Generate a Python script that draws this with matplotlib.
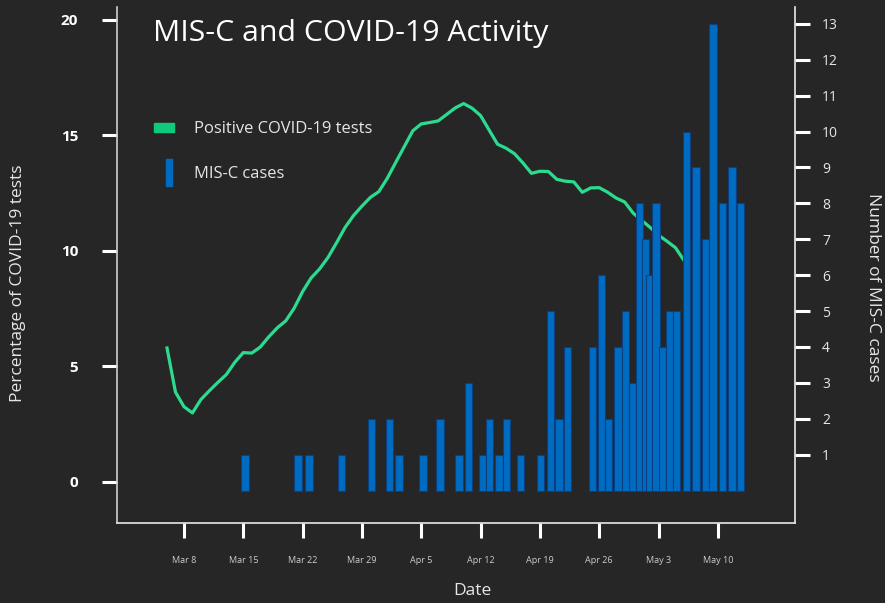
import pandas as pd
import matplotlib
matplotlib.use("Agg")
import matplotlib.pyplot as plt
from matplotlib.patches import Rectangle

plt.rcParams["font.family"] = ["Open Sans", "DejaVu Sans"]

# ── data ─────────────────────────────────────────────────────────────────────
# positive COVID-19 tests (%), daily from Mar 6 to May 6 2020
line_start = "2020-03-06"
pct_positive = [
    5.80, 3.89, 3.26, 2.99, 3.57, 3.95, 4.31, 4.65, 5.18, 5.60,
    5.58, 5.84, 6.28, 6.67, 6.97, 7.52, 8.24, 8.83, 9.22, 9.72,
    10.35, 11.01, 11.53, 11.94, 12.32, 12.57, 13.15, 13.84, 14.52, 15.20,
    15.50, 15.56, 15.63, 15.91, 16.19, 16.38, 16.18, 15.86, 15.24, 14.62,
    14.45, 14.21, 13.81, 13.36, 13.45, 13.44, 13.10, 13.02, 12.99, 12.54,
    12.73, 12.74, 12.54, 12.29, 12.12, 11.64, 11.33, 11.02, 10.68, 10.42,
    10.14, 9.59,
]

# MIS-C cases (report time, count)
case_times = [
    "2020-03-15 05:00", "2020-03-21 11:00", "2020-03-22 18:00", "2020-03-26 15:00",
    "2020-03-30 04:00", "2020-04-01 07:00", "2020-04-02 09:00", "2020-04-05 05:00",
    "2020-04-07 05:00", "2020-04-09 11:00", "2020-04-10 14:00", "2020-04-12 06:00",
    "2020-04-13 02:00", "2020-04-14 04:00", "2020-04-15 02:00", "2020-04-16 18:00",
    "2020-04-19 02:00", "2020-04-20 05:00", "2020-04-21 06:00", "2020-04-22 07:00",
    "2020-04-25 06:00", "2020-04-26 07:00", "2020-04-27 02:00", "2020-04-28 05:00",
    "2020-04-29 02:00", "2020-04-29 23:00", "2020-04-30 19:00", "2020-05-01 12:00",
    "2020-05-01 22:00", "2020-05-02 17:00", "2020-05-03 12:00", "2020-05-04 07:00",
    "2020-05-05 02:00", "2020-05-06 07:00", "2020-05-07 10:00", "2020-05-08 12:00",
    "2020-05-09 10:00", "2020-05-10 14:00", "2020-05-11 16:00", "2020-05-12 17:00",
]
case_counts = [
    1, 1, 1, 1, 2, 2, 1, 1, 2, 1,
    3, 1, 2, 1, 2, 1, 1, 5, 2, 4,
    4, 6, 2, 4, 5, 3, 8, 7, 6, 8,
    4, 5, 5, 10, 9, 7, 13, 8, 9, 8,
]

tick_dates = ["2020-03-08", "2020-03-15", "2020-03-22", "2020-03-29", "2020-04-05",
              "2020-04-12", "2020-04-19", "2020-04-26", "2020-05-03", "2020-05-10"]
tick_labels = ["Mar 8", "Mar 15", "Mar 22", "Mar 29", "Apr 5",
               "Apr 12", "Apr 19", "Apr 26", "May 3", "May 10"]
pct_ticks = [0, 5, 10, 15, 20]
case_ticks = list(range(1, 14))

# ── style ────────────────────────────────────────────────────────────────────
BG = "#262626"
GREEN = "#2bdc90"
BLUE = "#006cc1"
TXT = "#e6e6e6"

line_dates = pd.date_range(line_start, periods=len(pct_positive), freq="D")
bar_x = pd.to_datetime(case_times)

W, H = 885, 603
fig = plt.figure(figsize=(W / 100, H / 100), dpi=100, facecolor=BG)
ax = fig.add_axes([117 / W, (H - 523) / H, 678 / W, 516 / H])
ax.set_facecolor(BG)
ax2 = ax.twinx()

ax.plot(line_dates, pct_positive, color=GREEN, linewidth=2.3, solid_joinstyle="round")
ax2.bar(bar_x, case_counts, width=0.85, color=BLUE, edgecolor="#0b3f80", linewidth=0.8)

origin = pd.Timestamp("2020-03-08")
ax.set_xlim(origin - pd.Timedelta(days=7.9), origin + pd.Timedelta(days=72.1))
ax.set_ylim(-1.775, 20.56)
ax2.set_ylim(-0.905, 13.47)

# spines
for a in (ax, ax2):
    a.spines["top"].set_visible(False)
ax.spines["right"].set_visible(False)
ax2.spines["left"].set_visible(False)
ax2.spines["bottom"].set_visible(False)
ax.spines["left"].set_color("#cfcfcf")
ax.spines["left"].set_linewidth(1.2)
ax.spines["bottom"].set_color("#e8e8e8")
ax.spines["bottom"].set_linewidth(1.2)
ax2.spines["right"].set_color("#e8e8e8")
ax2.spines["right"].set_linewidth(1.2)

# ticks
ax.set_yticks(pct_ticks)
ax.tick_params(axis="y", direction="out", length=11, width=2.2, color="white",
               labelsize=11, labelcolor="white", pad=17)
for lbl in ax.get_yticklabels():
    lbl.set_fontweight("bold")

ax2.set_yticks(case_ticks)
ax2.tick_params(axis="y", direction="out", length=10.5, width=2.2, color="white",
                labelsize=10, labelcolor=TXT, pad=9)

ax.set_xticks(pd.to_datetime(tick_dates))
ax.set_xticklabels(tick_labels)
ax.tick_params(axis="x", direction="out", length=11, width=2.2, color="white",
               labelsize=6.5, labelcolor="#cccccc", pad=12.5)

# axis labels
ax.set_xlabel("Date", fontsize=12.5, color=TXT)
ax.xaxis.set_label_coords(0.5236, -0.132)
ax.xaxis.label.set_va("center")
ax.set_ylabel("Percentage of COVID-19 tests", fontsize=12.5, color=TXT)
ax.yaxis.set_label_coords(-0.146, 0.465)
ax.yaxis.label.set_va("center")
ax2.set_ylabel("Number of MIS-C cases", fontsize=12.5, color=TXT, rotation=270)
ax2.yaxis.set_label_coords(1.115, 0.457)
ax2.yaxis.label.set_va("center")

# title
fig.text(153 / W, 1 - 34 / H, "MIS-C and COVID-19 Activity", fontsize=21.8,
         color="white", ha="left", va="center")

# legend
fig.patches.append(Rectangle((154 / W, 1 - 132 / H), 20 / W, 9 / H,
                             transform=fig.transFigure, color="#10c97c"))
fig.patches.append(Rectangle((166 / W, 1 - 186 / H), 6 / W, 27 / H,
                             transform=fig.transFigure, color=BLUE))
fig.text(194 / W, 1 - 129 / H, "Positive COVID-19 tests", fontsize=11.9,
         color=TXT, ha="left", va="center")
fig.text(194 / W, 1 - 174 / H, "MIS-C cases", fontsize=11.9,
         color=TXT, ha="left", va="center")

fig.savefig("out.png", dpi=100, facecolor=BG)
